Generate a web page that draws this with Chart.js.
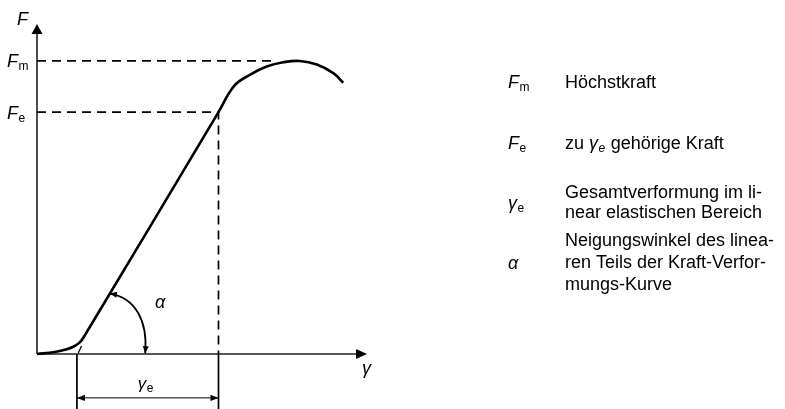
<!DOCTYPE html>
<html>
<head>
<meta charset="utf-8">
<title>Kraft-Verformungs-Kurve</title>
<script src="https://cdn.jsdelivr.net/npm/chart.js@4/dist/chart.umd.min.js"></script>
<style>
  body { margin: 0; background: #fff; }
  canvas { display: block; }
</style>
</head>
<body>
<canvas id="kurve" width="785" height="409"></canvas>
<script>
// Kraft-Verformungs-Kurve in relativen Einheiten (beide Achsen 0..100)
var verformung = [0, 5.4, 8.8, 11, 12.7, 14, 55, 59.7, 64.5, 69.6, 74.6, 79.7, 84.8, 89.8, 92.8];
var kraft      = [0, 0.6, 1.4, 2.2, 3.3, 4.85, 73.3, 81.2, 84.6, 87.1, 88.4, 88.8, 87.7, 85.1, 82.2];

var Fm = 88.8;          // Höchstkraft
var FmDashEnd = 71;     // Hilfslinie bis an die Kurve
var Fe = 73.3;          // zu gamma_e gehörige Kraft
var gammaStart = 12.1;  // Beginn des linearen Bereichs auf der Abszisse
var gammaEnd = 55;      // Ende des linearen Bereichs
var dimLevel = -13.3;   // Höhe der Maßlinie
var dimBottom = -17;    // Maßhilfslinien bis zum unteren Rand
var axisMax = 100;
var tickLine = [[12.5, 0.3], [13.5, 2.4]];
// Winkelbogen alpha: Start, Kontrollpunkt 1, Kontrollpunkt 2, Ende
var alphaArc = [[22.1, 18.3], [29.7, 17.0], [33.6, 10.3], [32.8, 0.2]];

// Legende rechts: Symbol, Index, Textzeilen
var legendSymbols = ['F', 'F', 'γ', 'α'];
var legendSubs = ['m', 'e', 'e', ''];
var legendLines = [
  ['Höchstkraft'],
  ['zu γe gehörige Kraft'],
  ['Gesamtverformung im li-', 'near elastischen Bereich'],
  ['Neigungswinkel des linea-', 'ren Teils der Kraft-Verfor-', 'mungs-Kurve']
];

var FONT = '"Liberation Sans", Arial, Helvetica, sans-serif';

function pts(xs, ys) {
  return xs.map(function (x, i) { return { x: x, y: ys[i] }; });
}

function arrowHead(ctx, tx, ty, fx, fy, len, hw) {
  var a = Math.atan2(ty - fy, tx - fx);
  ctx.save();
  ctx.translate(tx, ty);
  ctx.rotate(a);
  ctx.beginPath();
  ctx.moveTo(0, 0);
  ctx.lineTo(-len, -hw);
  ctx.lineTo(-len, hw);
  ctx.closePath();
  ctx.fill();
  ctx.restore();
}

// kursives Formelzeichen mit aufrechtem Index
function symbol(ctx, main, sub, x, y, size, subItalic) {
  ctx.font = 'italic ' + size + 'px ' + FONT;
  ctx.fillText(main, x, y);
  var w = ctx.measureText(main).width;
  if (sub) {
    ctx.font = (subItalic ? 'italic ' : '') + Math.round(size * 0.68) + 'px ' + FONT;
    ctx.fillText(sub, x + w + 0.5, y + 3);
    w += ctx.measureText(sub).width;
  }
  return w;
}

var annotations = {
  id: 'annotations',
  beforeDatasetsDraw: function (chart) {
    var ctx = chart.ctx, xs = chart.scales.x, ys = chart.scales.y;
    var x0 = xs.getPixelForValue(0), y0 = ys.getPixelForValue(0);
    var xEnd = xs.getPixelForValue(axisMax), yEnd = ys.getPixelForValue(axisMax);
    ctx.save();
    ctx.strokeStyle = '#222';
    ctx.fillStyle = '#000';
    ctx.lineWidth = 1.6;
    ctx.beginPath();
    ctx.moveTo(x0, y0);
    ctx.lineTo(xEnd - 8, y0);
    ctx.moveTo(x0, y0);
    ctx.lineTo(x0, yEnd + 8);
    ctx.stroke();
    arrowHead(ctx, xEnd, y0, x0, y0, 11, 5);
    arrowHead(ctx, x0, yEnd, x0, y0, 10, 5.5);
    ctx.restore();
  },
  afterDatasetsDraw: function (chart) {
    var ctx = chart.ctx, xs = chart.scales.x, ys = chart.scales.y;
    var px = function (p) { return [xs.getPixelForValue(p[0]), ys.getPixelForValue(p[1])]; };
    ctx.save();
    ctx.fillStyle = '#000';
    ctx.strokeStyle = '#000';

    // Verlängerung der Geraden bis zur Achse
    var t0 = px(tickLine[0]), t1 = px(tickLine[1]);
    ctx.lineWidth = 1.3;
    ctx.beginPath();
    ctx.moveTo(t0[0], t0[1]);
    ctx.lineTo(t1[0], t1[1]);
    ctx.stroke();

    // Winkelbogen alpha mit Pfeilspitzen
    var a = alphaArc.map(px);
    ctx.lineWidth = 1.8;
    ctx.beginPath();
    ctx.moveTo(a[0][0], a[0][1]);
    ctx.bezierCurveTo(a[1][0], a[1][1], a[2][0], a[2][1], a[3][0], a[3][1]);
    ctx.stroke();
    arrowHead(ctx, a[0][0], a[0][1], a[1][0], a[1][1], 7, 3);
    arrowHead(ctx, a[3][0], a[3][1], a[2][0], a[2][1], 7, 3);

    // Maßpfeile gamma_e
    var d0 = px([gammaStart, dimLevel]), d1 = px([gammaEnd, dimLevel]);
    arrowHead(ctx, d0[0], d0[1], d1[0], d1[1], 8, 3.2);
    arrowHead(ctx, d1[0], d1[1], d0[0], d0[1], 8, 3.2);

    // Beschriftung im Diagramm
    var x0 = xs.getPixelForValue(0), y0 = ys.getPixelForValue(0);
    ctx.textBaseline = 'alphabetic';
    symbol(ctx, 'F', '', x0 - 20, ys.getPixelForValue(axisMax) + 1, 18);
    symbol(ctx, 'F', 'm', 7, ys.getPixelForValue(Fm) + 6.5, 18);
    symbol(ctx, 'F', 'e', 7, ys.getPixelForValue(Fe) + 7, 18);
    symbol(ctx, 'γ', '', xs.getPixelForValue(axisMax) - 5, y0 + 20, 18);
    symbol(ctx, 'γ', 'e', (d0[0] + d1[0]) / 2 - 10, d0[1] - 9, 17);
    symbol(ctx, 'α', '', 155, 308, 18);

    // Legende
    var symX = 508, textX = 565;
    var rowBase = [[88], [149], [198, 218], [246, 268, 290]];
    var symBase = [88, 149, 209, 269];
    legendSymbols.forEach(function (s, i) {
      symbol(ctx, s, legendSubs[i], symX, symBase[i], 18);
      legendLines[i].forEach(function (line, j) {
        var y = rowBase[i][j];
        ctx.font = '18px ' + FONT;
        if (line.indexOf('γe') >= 0) {
          var parts = line.split('γe');
          ctx.fillText(parts[0], textX, y);
          var x = textX + ctx.measureText(parts[0]).width;
          x += symbol(ctx, 'γ', 'e', x, y, 18, true) + 1;
          ctx.font = '18px ' + FONT;
          ctx.fillText(parts[1], x, y);
        } else {
          ctx.fillText(line, textX, y);
        }
      });
    });
    ctx.restore();
  }
};

function lineSet(data, width, dash) {
  return {
    data: data,
    showLine: true,
    borderColor: '#000',
    borderWidth: width,
    borderDash: dash || [],
    pointRadius: 0,
    tension: 0,
    clip: false
  };
}

var curve = lineSet(pts(verformung, kraft), 2.6);
curve.tension = 0.4;

new Chart(document.getElementById('kurve'), {
  type: 'scatter',
  data: {
    datasets: [
      curve,
      lineSet([{ x: 0, y: Fm }, { x: FmDashEnd, y: Fm }], 1.7, [9, 6]),
      lineSet([{ x: 0, y: Fe }, { x: gammaEnd, y: Fe }, { x: gammaEnd, y: 0 }], 1.7, [9, 6]),
      lineSet([{ x: gammaEnd, y: 0 }, { x: gammaEnd, y: dimBottom }], 1.7),
      lineSet([{ x: gammaStart, y: 0 }, { x: gammaStart, y: dimBottom }], 1.7),
      lineSet([{ x: gammaStart, y: dimLevel }, { x: gammaEnd, y: dimLevel }], 1)
    ]
  },
  options: {
    responsive: false,
    animation: false,
    events: [],
    layout: { padding: { left: 37, right: 418, top: 24, bottom: 55 } },
    scales: {
      x: { type: 'linear', min: 0, max: axisMax, display: false },
      y: { type: 'linear', min: 0, max: axisMax, display: false }
    },
    plugins: {
      legend: { display: false },
      tooltip: { enabled: false }
    }
  },
  plugins: [annotations]
});
</script>
</body>
</html>
